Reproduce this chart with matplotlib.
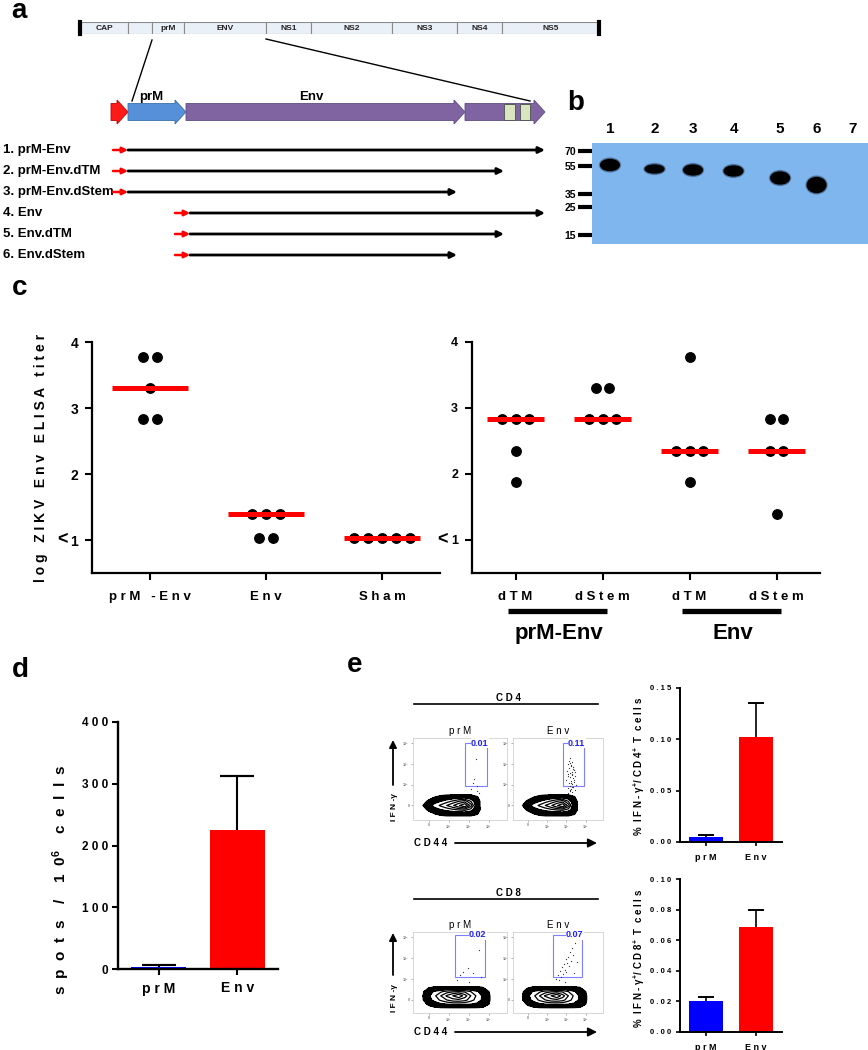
import numpy as np
import matplotlib
matplotlib.use('Agg')
import matplotlib.pyplot as plt
import matplotlib.transforms as mtransforms
from matplotlib.patches import Rectangle, FancyArrow, Ellipse

plt.rcParams['font.family'] = ['Liberation Sans', 'DejaVu Sans']
plt.rcParams['font.weight'] = 'bold'
plt.rcParams['axes.labelweight'] = 'bold'
plt.rcParams['mathtext.fontset'] = 'custom'
plt.rcParams['mathtext.rm'] = 'Liberation Sans:bold'
plt.rcParams['mathtext.it'] = 'Liberation Sans:bold:italic'
plt.rcParams['mathtext.bf'] = 'Liberation Sans:bold'
plt.rcParams['mathtext.default'] = 'bf'

# ---------------- data ----------------
# a: genome map and constructs (schematic units)
genome_names = ['CAP', '', 'prM', 'ENV', 'NS1', 'NS2', 'NS3', 'NS4', 'NS5']
genome_len = [48, 24, 32, 82, 45, 81, 65, 45, 97]
gene_text = ['', 'prM', 'Env', '']
gene_start = [111, 128, 186, 465]
gene_end = [128, 186, 465, 545]
gene_color = ['#ff1a1a', '#5590d8', '#8064a2', '#8064a2']
gene_edge = ['#c00000', '#3a6fb0', '#5f4a80', '#5f4a80']
tm_start = [504, 520]
tm_end = [515, 530]
construct_names = ['1. prM-Env', '2. prM-Env.dTM', '3. prM-Env.dStem',
                   '4. Env', '5. Env.dTM', '6. Env.dStem']
construct_start = [113, 113, 113, 175, 175, 175]
construct_end = [545, 504, 457, 545, 504, 457]

# b: western blot
lane_labels = ['1', '2', '3', '4', '5', '6', '7']
lane_pos = [1.0, 2.1, 3.05, 4.05, 5.2, 6.1, 7.0]
ladder_kda = ['70', '55', '35', '25', '15']
ladder_mig = [8, 23, 51, 64, 92]
band_mig = [22, 26, 27, 28, 35, 42]
band_h = [11, 8, 10, 10, 12, 15]

# c: ELISA titers (log10)
left_groups = ['prM -Env', 'Env', 'Sham']
left_vals = [[3.78, 3.78, 3.30, 2.83, 2.83],
             [1.40, 1.40, 1.40, 1.03, 1.03],
             [1.03, 1.03, 1.03, 1.03, 1.03]]
left_median = [3.30, 1.40, 1.03]
right_groups = ['dTM', 'dStem', 'dTM', 'dStem']
right_vals = [[2.83, 2.83, 2.83, 2.35, 1.88],
              [3.30, 3.30, 2.83, 2.83, 2.83],
              [3.78, 2.35, 2.35, 2.35, 1.88],
              [2.83, 2.83, 2.35, 2.35, 1.40]]
right_median = [2.83, 2.83, 2.35, 2.35]
right_families = ['prM-Env', 'Env']

# d: ELISpot
bar_groups = ['prM', 'Env']
elispot_mean = [4, 225]
elispot_err = [2, 87]

# e: intracellular IFN-g staining
cd4_mean = [0.005, 0.102]
cd4_err = [0.0018, 0.033]
cd8_mean = [0.0203, 0.0686]
cd8_err = [0.0027, 0.0114]
cd4_pct = ['0.01', '0.11']
cd8_pct = ['0.02', '0.07']
cd4_gate = [1.8, 0.95, 2.9, 3.0]
cd8_gate = [1.3, 1.1, 2.8, 3.1]

gx4 = [-0.6, -0.3, 0.0, 0.3, 0.6, 0.9, 1.2, 1.5, 1.8, 2.1, 2.4, 2.7]
gy4 = [-0.6, -0.4, -0.2, 0.0, 0.2, 0.4, 0.6]
cd4_density = [
    [0, 0, 0, 0, 0, 0, 0, 0, 0, 0, 0, 0],
    [0, 0, 0, 1.0, 1.6, 2.0, 2.0, 2.0, 2.0, 2.0, 1.2, 0],
    [0, 0, 1.5, 2.6, 3.0, 3.4, 3.8, 4.2, 4.4, 3.6, 2.2, 0],
    [0, 0.9, 2.6, 3.4, 4.2, 5.0, 6.0, 7.4, 9.0, 5.6, 2.0, 0],
    [0, 0, 1.5, 2.6, 3.0, 3.6, 4.2, 5.0, 5.6, 4.0, 2.0, 0],
    [0, 0, 0, 1.0, 1.6, 2.0, 2.2, 2.4, 2.4, 2.2, 1.2, 0],
    [0, 0, 0, 0, 0, 0, 0, 0, 0, 0, 0, 0]]

gx8 = [-0.6, -0.3, 0.0, 0.3, 0.6, 0.9, 1.2, 1.5, 1.8, 2.1, 2.4, 2.7, 3.0, 3.3]
gy8 = [-0.6, -0.4, -0.2, 0.0, 0.2, 0.4, 0.6, 0.8]
cd8_density = [
    [0, 0, 0, 0, 0, 0, 0, 0, 0, 0, 0, 0, 0, 0],
    [0, 0, 0, 0.4, 0.6, 0.6, 0.6, 0.6, 0.6, 0.6, 0.6, 0.6, 0.3, 0],
    [0, 0, 1.4, 2.4, 2.8, 3.0, 3.2, 3.2, 3.2, 3.0, 2.8, 2.2, 1.0, 0],
    [0, 0.8, 2.6, 3.4, 4.2, 5.0, 5.6, 5.8, 5.4, 4.4, 3.6, 2.8, 1.2, 0],
    [0, 0.9, 2.8, 3.8, 5.0, 6.4, 7.6, 9.0, 6.8, 5.0, 3.8, 2.8, 1.2, 0],
    [0, 0.6, 2.4, 3.2, 3.8, 4.4, 4.8, 5.0, 4.8, 4.0, 3.2, 2.4, 1.0, 0],
    [0, 0, 0.8, 1.2, 1.2, 1.2, 1.2, 1.2, 1.2, 1.2, 1.2, 1.0, 0.5, 0],
    [0, 0, 0, 0, 0, 0, 0, 0, 0, 0, 0, 0, 0, 0]]

cd4_prm_ev_x = [2.35, 2.25, 2.43, 2.2, 2.4, 2.1, 2.5]
cd4_prm_ev_y = [2.24, 1.29, 0.95, 1.1, 0.7, 0.8, 0.6]
cd4_env_ev_x = [2.2, 2.3, 2.1, 2.25, 2.35, 2.15, 2.4, 2.05, 2.3, 2.2, 2.1, 2.28, 2.45, 2.18,
                2.32, 2.0, 2.22, 2.38, 2.12, 2.27, 2.5, 2.16, 2.34, 2.08, 2.24, 2.42, 2.2,
                2.3, 2.1, 2.36, 2.26, 2.14, 2.44, 2.19, 2.31, 2.06, 2.4, 2.23, 2.29, 2.17]
cd4_env_ev_y = [2.3, 2.1, 2.0, 1.9, 1.85, 1.8, 1.7, 1.65, 1.6, 1.55, 1.5, 1.45, 1.4, 1.35,
                1.3, 1.25, 1.2, 1.15, 1.1, 1.05, 1.0, 0.95, 0.9, 0.85, 0.8, 0.75, 0.7,
                0.65, 0.6, 1.75, 1.95, 2.15, 1.6, 2.05, 1.5, 1.4, 1.25, 1.1, 0.9, 0.75]
cd8_prm_ev_x = [2.5, 1.95, 1.7, 2.2, 1.55, 2.6, 1.4, 2.0]
cd8_prm_ev_y = [2.38, 1.52, 1.33, 1.28, 1.2, 1.1, 0.95, 0.85]
cd8_env_ev_x = [2.45, 2.3, 2.2, 2.35, 2.1, 1.95, 2.25, 2.05, 1.85, 2.15, 1.75, 1.9, 2.0,
                1.65, 1.8, 1.55, 1.7, 2.4, 1.6, 1.45, 1.9, 2.55]
cd8_env_ev_y = [2.7, 2.5, 2.3, 2.15, 2.05, 1.95, 1.85, 1.75, 1.7, 1.6, 1.55, 1.45, 1.35,
                1.4, 1.25, 1.2, 1.1, 1.3, 0.95, 1.0, 0.85, 1.8]

# ---------------- figure ----------------
W, H = 868, 1050
fig = plt.figure(figsize=(W / 100, H / 100), dpi=100)


def px_axes(x0, y0, x1, y1):
    return fig.add_axes([x0 / W, 1 - y1 / H, (x1 - x0) / W, (y1 - y0) / H])


def sp(s):
    # Prism style letter spacing
    return ' '.join(s)


ov = px_axes(0, 0, W, H)
ov.set_xlim(0, W)
ov.set_ylim(H, 0)
ov.axis('off')

for lab, (x, y) in zip('abcde', [(19, 11), (576, 103), (20, 288), (20, 670), (355, 665)]):
    ov.text(x, y, lab, fontsize=20, ha='center', va='center')

# ---- a ----
ax_g = px_axes(80, 22, 599, 34)
lefts = np.concatenate([[0], np.cumsum(genome_len)[:-1]])
ax_g.barh(0.5, genome_len, left=lefts, height=1, color='#eaf0f8', edgecolor='#8a8a8a', lw=0.8)
for nm, l, w in zip(genome_names, lefts, genome_len):
    ax_g.text(l + w / 2, 0.5, nm, fontsize=6, ha='center', va='center', color='#222222')
for xe in [0, sum(genome_len)]:
    ax_g.axvline(xe, color='k', lw=3, clip_on=False)
ax_g.set_xlim(0, sum(genome_len))
ax_g.set_ylim(0, 1)
ax_g.axis('off')

ov.plot([80 + lefts[2], 132], [40, 101], color='k', lw=1)
ov.plot([80 + lefts[4], 530], [39, 101], color='k', lw=1)

ax_gene = px_axes(100, 92, 560, 132)
ax_gene.set_xlim(100, 560)
ax_gene.set_ylim(132, 92)
ax_gene.axis('off')
for s, e, c, ec in zip(gene_start, gene_end, gene_color, gene_edge):
    ax_gene.add_patch(FancyArrow(s, 112, e - s, 0, width=17, head_width=24, head_length=11,
                                 length_includes_head=True, fc=c, ec=ec, lw=0.6))
for s, e in zip(tm_start, tm_end):
    ax_gene.add_patch(Rectangle((s, 104), e - s, 16, fc='#d9e5bf', ec='#4d4d4d', lw=0.6))
ov.text(151, 97, gene_text[1], fontsize=9.5, ha='center', va='center')
ov.text(311, 97, gene_text[2], fontsize=9.5, ha='center', va='center')

ax_c = px_axes(0, 139.5, 560, 265.5)
ax_c.set_xlim(0, 560)
ax_c.set_ylim(5.5, -0.5)
ax_c.axis('off')
for i, (nm, s, e) in enumerate(zip(construct_names, construct_start, construct_end)):
    ax_c.text(3, i, nm, fontsize=9.5, ha='left', va='center')
    ax_c.annotate('', xy=(s + 15, i), xytext=(s, i),
                  arrowprops=dict(arrowstyle='-|>', color='#ff0000', lw=1.8,
                                  mutation_scale=8, shrinkA=0, shrinkB=0))
    ax_c.annotate('', xy=(e, i), xytext=(s + 15, i),
                  arrowprops=dict(arrowstyle='-|>', color='k', lw=2.0,
                                  mutation_scale=9, shrinkA=0, shrinkB=0))

# ---- b ----
ax_b = px_axes(592, 143, 868, 244)
ax_b.set_facecolor('#80b6ee')
ax_b.set_xlim(0.556, 7.37)
ax_b.set_ylim(101, 0)
for sp_ in ax_b.spines.values():
    sp_.set_visible(False)
ax_b.set_yticks(ladder_mig)
ax_b.set_yticklabels(ladder_kda)
ax_b.tick_params(axis='y', length=10, width=3, pad=1.5, labelsize=7.5)
ax_b.xaxis.tick_top()
ax_b.set_xticks(lane_pos)
ax_b.set_xticklabels(lane_labels)
ax_b.tick_params(axis='x', length=0, pad=5, labelsize=11)
for i in range(len(band_mig)):
    ax_b.add_patch(Ellipse((lane_pos[i], band_mig[i]), 0.52, band_h[i] + 3, color='#1a2a40', alpha=0.35))
    ax_b.add_patch(Ellipse((lane_pos[i], band_mig[i]), 0.46, band_h[i], color='k'))


# ---- c ----
def dot_panel(ax, vals, medians, labels, step, tick_fs):
    for i, v in enumerate(vals):
        for u in sorted(set(v)):
            n = v.count(u)
            xs = i + (np.arange(n) - (n - 1) / 2) * step
            ax.plot(xs, [u] * n, 'o', color='k', ms=6.8, zorder=3)
        ax.plot([i - 0.33, i + 0.33], [medians[i]] * 2, color='#ff0000', lw=3.6,
                solid_capstyle='butt', zorder=4)
    ax.set_xlim(-0.5, len(vals) - 0.5)
    ax.set_ylim(0.5, 4)
    ax.set_yticks([1, 2, 3, 4])
    ax.set_xticks(range(len(vals)))
    ax.set_xticklabels([sp(s) for s in labels])
    ax.spines[['top', 'right']].set_visible(False)
    ax.spines[['left', 'bottom']].set_linewidth(1.6)
    ax.tick_params(axis='y', length=5, width=1.5, pad=5, labelsize=tick_fs)
    ax.tick_params(axis='x', length=5, width=1.5, pad=8, labelsize=9.5)
    ax.set_facecolor('none')


ax_l = px_axes(92, 342, 440, 573)
dot_panel(ax_l, left_vals, left_median, left_groups, 0.12, 10)
ax_l.set_ylabel(sp('log ZIKV Env ELISA titer'), fontsize=10)
ax_l.yaxis.set_label_coords(-0.125, 0.5)

ax_r = px_axes(472, 342, 820, 573)
dot_panel(ax_r, right_vals, right_median, right_groups, 0.16, 9)
ov.text(62, 540, '<', fontsize=13, ha='center', va='center')
ov.text(442, 540, '<', fontsize=13, ha='center', va='center')

trans = mtransforms.blended_transform_factory(ax_r.transData, ax_r.transAxes)
for k, fam in enumerate(right_families):
    c0 = 2 * k
    ax_r.plot([c0 - 0.09, c0 + 1.05], [-0.165, -0.165], color='k', lw=3.8,
              transform=trans, clip_on=False, solid_capstyle='butt')
    ax_r.text(c0 + 0.5, -0.26, fam, fontsize=16, ha='center', va='center', transform=trans)


# ---- d / e bars ----
def bar_panel(ax, means, errs, ymax, yticks, fmt, tick_fs, lab_fs, cap, width, lw, tlen):
    x = np.arange(len(means))
    ax.bar(x, means, width=width, color=['#0000ff', '#ff0000'], zorder=2)
    # upper error bar only: stem plus top cap
    ax.vlines(x, means, np.add(means, errs), color='k', lw=lw, zorder=1)
    ax.errorbar(x, np.add(means, errs), yerr=0, fmt='none', ecolor='k',
                elinewidth=0, capsize=cap, capthick=lw, zorder=1)
    ax.set_xlim(-0.52, 1.52)
    ax.set_ylim(0, ymax)
    ax.set_yticks(yticks)
    ax.set_yticklabels([sp(fmt.format(t)) for t in yticks])
    ax.set_xticks(x)
    ax.set_xticklabels([sp(g) for g in bar_groups])
    ax.spines[['top', 'right']].set_visible(False)
    ax.spines[['left', 'bottom']].set_linewidth(lw + 0.2)
    ax.tick_params(axis='y', length=tlen, width=lw, pad=3, labelsize=tick_fs)
    ax.tick_params(axis='x', length=tlen, width=lw, pad=5, labelsize=lab_fs)


ax_d = px_axes(118, 722, 278, 969)
bar_panel(ax_d, elispot_mean, elispot_err, 400, [0, 100, 200, 300, 400], '{:.0f}',
          8.5, 10, 12, 0.7, 1.5, 4)
ax_d.set_ylabel(r's  p  o  t  s    /    1  0$^{6}$    c  e  l  l  s', fontsize=11)
ax_d.yaxis.set_label_coords(-0.29, 0.36)

ax_e1 = px_axes(680, 688, 782, 842)
bar_panel(ax_e1, cd4_mean, cd4_err, 0.15, [0, 0.05, 0.10, 0.15], '{:.2f}',
          5.5, 6.5, 5.5, 0.68, 1.2, 3)
ax_e1.set_ylabel(r'%  I F N - $\gamma^{+}$/ C D 4$^{+}$  T  c e l l s', fontsize=7)
ax_e1.yaxis.set_label_coords(-0.32, 0.49)

ax_e2 = px_axes(680, 879, 782, 1032)
bar_panel(ax_e2, cd8_mean, cd8_err, 0.10, [0, 0.02, 0.04, 0.06, 0.08, 0.10], '{:.2f}',
          5.5, 6.5, 5.5, 0.68, 1.2, 3)
ax_e2.set_ylabel(r'%  I F N - $\gamma^{+}$/ C D 8$^{+}$  T  c e l l s', fontsize=7)
ax_e2.yaxis.set_label_coords(-0.32, 0.48)


# ---- e flow plots ----
def flow_panel(ax, gx, gy, dens, ylim, gate, evx, evy, pct, title):
    ax.contourf(gx, gy, dens, levels=[1, 3.0], colors=['k'])
    ax.contour(gx, gy, dens, levels=[1, 3.0, 4.0, 5.0, 6.2, 7.6],
               colors='k', linewidths=0.9)
    ax.plot(evx, evy, 'o', color='#333333', ms=0.9, mew=0)
    x0, y0, x1, y1 = gate
    ax.add_patch(Rectangle((x0, y0), x1 - x0, y1 - y0, fill=False, ec='#7f7fff', lw=0.8))
    ax.text(x1 + 0.08, y1, pct, color='#1f1fff', fontsize=6.5, ha='right', va='center',
            bbox=dict(fc='white', ec='none', pad=0.2))
    ax.set_xlim(-0.78, 3.9)
    ax.set_ylim(*ylim)
    ticks = [0, 1, 2, 3]
    tl = ['0', r'$10^3$', r'$10^4$', r'$10^5$']
    ax.set_xticks(ticks)
    ax.set_xticklabels(tl)
    ax.set_yticks(ticks)
    ax.set_yticklabels(tl)
    ax.tick_params(length=1.5, width=0.4, labelsize=2.5, colors='#777777', pad=1)
    for s in ax.spines.values():
        s.set_color('#c8c8c8')
        s.set_linewidth(0.5)
    ax.set_title(sp(title), fontsize=7, pad=3)


fa = px_axes(413, 738, 507, 820)
flow_panel(fa, gx4, gy4, cd4_density, (-0.7, 3.25), cd4_gate, cd4_prm_ev_x, cd4_prm_ev_y,
           cd4_pct[0], 'prM')
fb = px_axes(513, 738, 603, 820)
flow_panel(fb, gx4, gy4, cd4_density, (-0.7, 3.25), cd4_gate, cd4_env_ev_x, cd4_env_ev_y,
           cd4_pct[1], 'Env')
fc = px_axes(413, 932, 507, 1013)
flow_panel(fc, gx8, gy8, cd8_density, (-0.62, 3.24), cd8_gate, cd8_prm_ev_x, cd8_prm_ev_y,
           cd8_pct[0], 'prM')
fd = px_axes(513, 932, 603, 1013)
flow_panel(fd, gx8, gy8, cd8_density, (-0.62, 3.24), cd8_gate, cd8_env_ev_x, cd8_env_ev_y,
           cd8_pct[1], 'Env')

for name, yl, yarr, ylab, ycd44 in [('CD4', 704, (785, 740), 807, 843),
                                     ('CD8', 899, (975, 933), 998, 1032)]:
    ov.plot([414, 598], [yl, yl], color='k', lw=1.2)
    ov.text(508, yl - 6, sp(name), fontsize=7, ha='center', va='center')
    ov.annotate('', xy=(393, yarr[1]), xytext=(393, yarr[0]),
                arrowprops=dict(arrowstyle='-|>', color='k', lw=1.3, mutation_scale=11,
                                shrinkA=0, shrinkB=0))
    ov.text(394, ylab, 'I F N -γ', rotation=90, fontsize=6, ha='center', va='center')
    ov.text(414, ycd44, sp('CD44'), fontsize=7, ha='left', va='center')
    ov.annotate('', xy=(597, ycd44), xytext=(455, ycd44),
                arrowprops=dict(arrowstyle='-|>', color='k', lw=1.3, mutation_scale=13,
                                shrinkA=0, shrinkB=0))

fig.savefig('out.png', dpi=100)
